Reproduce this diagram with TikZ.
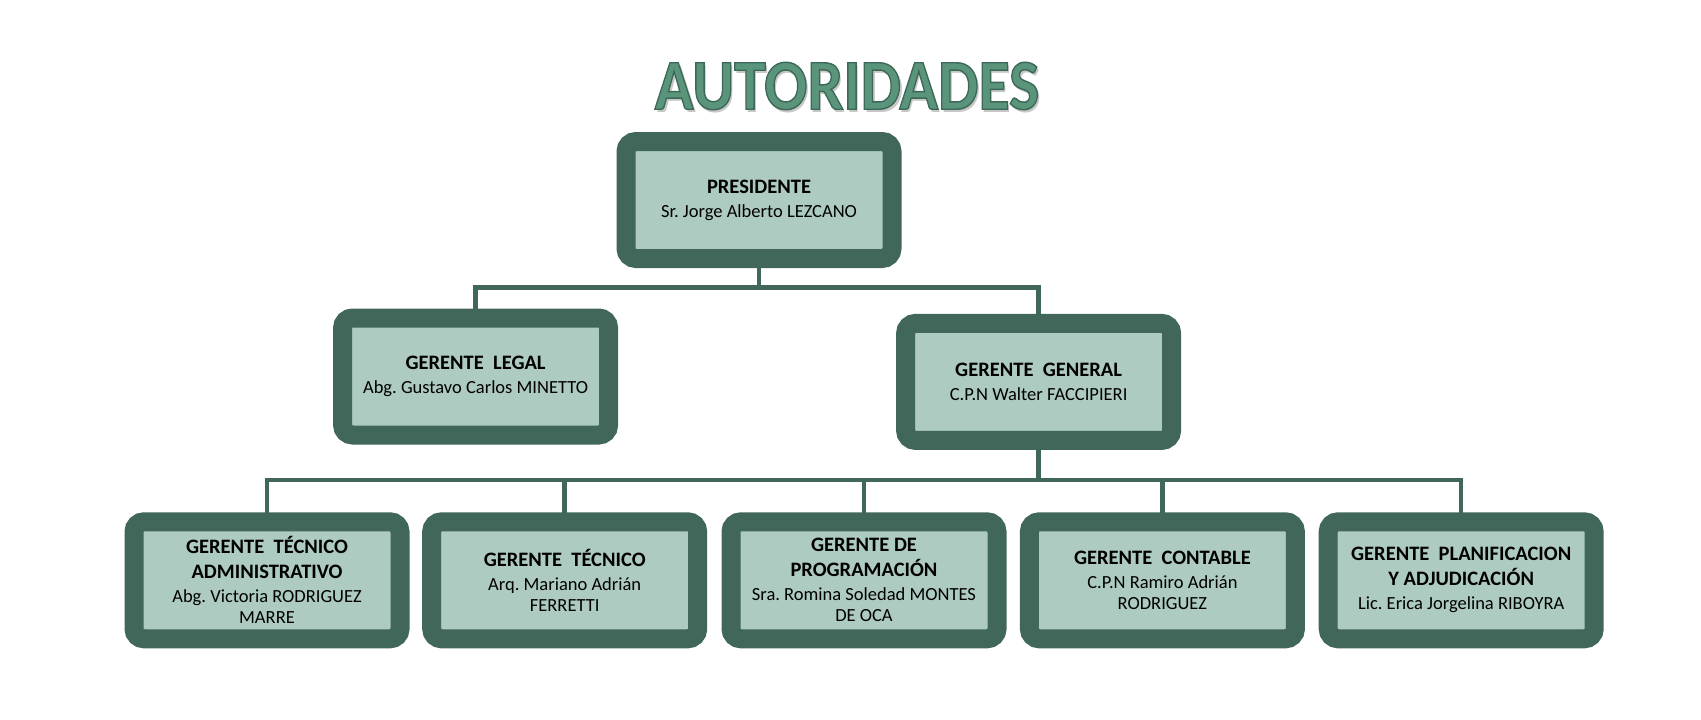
\documentclass[tikz,border=0pt]{standalone}
\usepackage{fontspec}
\setmainfont{Carlito}
\frenchspacing
\definecolor{dk}{RGB}{65,103,90}
\definecolor{lt}{RGB}{173,203,192}
\definecolor{tfill}{RGB}{90,148,123}
\newcommand\hd[1]{{\fontsize{20.5}{22}\selectfont\bfseries #1}}
\newcommand\outl[1]{\special{pdf:literal direct 2 Tr 1.3 w 0.235 0.41 0.34 RG}#1\special{pdf:literal direct 0 Tr}}
\tikzset{
  box/.style={draw=dk, fill=lt, line width=19pt, rounded corners=10pt,
    minimum width=266pt, minimum height=117pt, align=center, inner sep=0pt,
    text=black, font=\fontsize{18.5}{21}\selectfont},
  conn/.style={draw=dk, line width=4.5pt},
  ttl/.style={font=\fontsize{64}{64}\selectfont\bfseries, inner sep=0pt}
}
\begin{document}
\begin{tikzpicture}[x=1pt,y=-1pt]
\useasboundingbox (0,0) rectangle (1701,720);
% title
\node[ttl, text=black!40, opacity=0.55] (tshadow) at (849.5,89.5) {\scalebox{1}[1.12]{AUTORIDADES}};
\node[ttl, text=tfill] (title) at (847,86) {\scalebox{1}[1.12]{\outl{AUTORIDADES}}};
% junctions
\coordinate (j1) at (759,287.5);
\coordinate (j2) at (1038.6,480);
% connectors
\draw[conn] (759,200) -- (j1);
\draw[conn] (475.6,376.5) |- (j1) -| (1038.6,381.9);
\draw[conn] (1038.6,381.9) -- (j2);
\draw[conn] (267,580.3) |- (j2) -| (1461.2,580.3);
\draw[conn] (564.7,580.3) -- (564.7,480);
\draw[conn] (864,580.3) -- (864,480);
\draw[conn] (1162.4,580.3) -- (1162.4,480);
% boxes
\node[box] (pres) at (759,200) {\hd{PRESIDENTE}\\[3pt] Sr. Jorge Alberto LEZCANO};
\node[box] (legal) at (475.6,376.5) {\hd{GERENTE\ \ LEGAL}\\[3pt] Abg. Gustavo Carlos MINETTO};
\node[box] (general) at (1038.6,381.9) {\hd{GERENTE\ \ GENERAL}\\[3pt] C.P.N Walter FACCIPIERI};
\node[box] (b1) at (267,580.3) {\hd{GERENTE\ \ TÉCNICO}\\[4pt]\hd{ADMINISTRATIVO}\\[3pt] Abg. Victoria RODRIGUEZ\\ MARRE};
\node[box] (b2) at (564.7,580.3) {\hd{GERENTE\ \ TÉCNICO}\\[3pt] Arq. Mariano Adrián\\ FERRETTI};
\node[box] (b3) at (864,580.3) {\hd{GERENTE DE}\\[4pt]\hd{PROGRAMACIÓN}\\[3pt] Sra. Romina Soledad MONTES\\ DE OCA};
\node[box] (b4) at (1162.4,580.3) {\hd{GERENTE\ \ CONTABLE}\\[3pt] C.P.N Ramiro Adrián\\ RODRIGUEZ};
\node[box] (b5) at (1461.2,580.3) {\hd{GERENTE\ \ PLANIFICACION}\\[4pt]\hd{Y ADJUDICACIÓN}\\[3pt] Lic. Erica Jorgelina RIBOYRA};
\end{tikzpicture}
\end{document}
